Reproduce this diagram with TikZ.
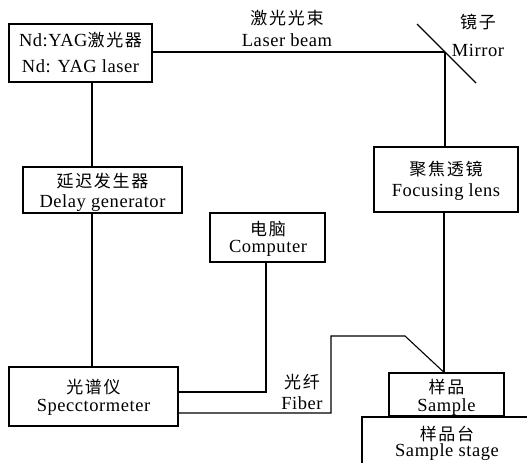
\documentclass[tikz,border=0pt]{standalone}
\usepackage{fontspec}
\setmainfont{Liberation Serif}[LetterSpace=3]
\newfontfamily\cjk{Noto Sans CJK SC}[LetterSpace=10]
\newcommand{\zh}[1]{{\cjk\fontsize{17pt}{19pt}\selectfont #1}}
\begin{document}
\begin{tikzpicture}[x=1pt,y=-1pt,
  box/.style={draw,line width=1.3pt,inner sep=0pt,anchor=center},
  lbl/.style={font=\fontsize{18.5pt}{20pt}\selectfont,inner sep=0pt,anchor=center},
  wire/.style={line width=1.1pt}]
\useasboundingbox (0,0) rectangle (527,463);
% boxes
\node[box,minimum width=143pt,minimum height=58pt] (laser) at (80.5,53) {};
\node[box,minimum width=159pt,minimum height=46pt] (delay) at (102.5,190) {};
\node[box,minimum width=115pt,minimum height=49pt] (comp) at (267.5,237.5) {};
\node[box,minimum width=144pt,minimum height=65pt] (focus) at (446,179.5) {};
\node[box,minimum width=169pt,minimum height=59pt] (spec) at (93.5,396.5) {};
\node[box,minimum width=115pt,minimum height=43pt] (sample) at (446.5,394.5) {};
% stage (open at right and bottom)
\coordinate (stA) at (362,463);
\coordinate (stB) at (362,417);
\coordinate (stC) at (527,417);
\draw[line width=1.3pt] (stA) -- (stB) -- (stC);
% texts
\node[lbl] (t1a) at (80.5,40) {Nd:YAG\zh{激光器}};
\node[lbl] (t1b) at (80.5,66) {Nd: YAG laser};
\node[lbl] (t2a) at (102.5,181) {\zh{延迟发生器}};
\node[lbl] (t2b) at (102.5,203) {Delay generator};
\node[lbl] (t3a) at (268,229) {\zh{电脑}};
\node[lbl] (t3b) at (268,248) {Computer};
\node[lbl] (t4a) at (446,169) {\zh{聚焦透镜}};
\node[lbl] (t4b) at (446,192) {Focusing lens};
\node[lbl] (t5a) at (93.5,387) {\zh{光谱仪}};
\node[lbl] (t5b) at (93.5,407) {Specctormeter};
\node[lbl] (t6a) at (446.5,387) {\zh{样品}};
\node[lbl] (t6b) at (446.5,407) {Sample};
\node[lbl] (t7a) at (447,434) {\zh{样品台}};
\node[lbl] (t7b) at (447,452) {Sample stage};
\node[lbl] (t8a) at (287,18) {\zh{激光光束}};
\node[lbl] (t8b) at (287,40) {Laser beam};
\node[lbl] (t9a) at (478,22) {\zh{镜子}};
\node[lbl] (t9b) at (478,50) {Mirror};
\node[lbl] (t10a) at (302,382) {\zh{光纤}};
\node[lbl] (t10b) at (302,403) {Fiber};
% mirror
\coordinate (mA) at (417,24);
\coordinate (mB) at (476,83);
\coordinate (mC) at (445,52);
\draw[line width=1.1pt] (mA) -- (mB);
% helper coordinates
\coordinate (vx) at (92,0);
\coordinate (cx) at (266,0);
\coordinate (ry) at (0,392);
\coordinate (fy) at (0,413);
\coordinate (f1) at (331,413);
\coordinate (f2) at (331,336);
\coordinate (f3) at (405,336);
\coordinate (sx) at (444,0);
% connectors
\draw[wire] (laser.east |- mC) -- (mC);
\draw[wire] (mC) -- (focus.north -| mC);
\draw[wire] (focus.south -| sx) -- (sample.north -| sx);
\draw[wire] (laser.south -| vx) -- (delay.north -| vx);
\draw[wire] (delay.south -| vx) -- (spec.north -| vx);
\draw[wire] (comp.south -| cx) -- (cx |- ry) -- (spec.east |- ry);
\draw[wire] (spec.east |- fy) -- (f1) -- (f2) -- (f3) -- (sample.north -| sx);
\end{tikzpicture}
\end{document}
